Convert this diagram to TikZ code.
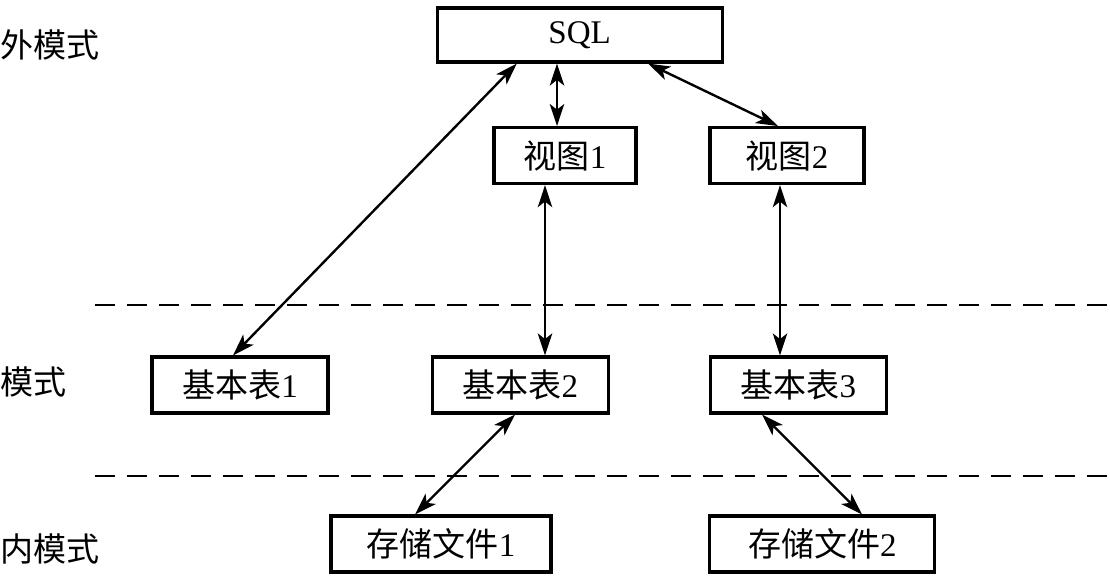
\documentclass[tikz,border=0pt]{standalone}
\usepackage{fontspec}
\setmainfont{Liberation Serif}
\newfontfamily\cjk{Noto Sans CJK SC}
\usepackage{tikz}
\usetikzlibrary{arrows.meta}

\begin{document}
\begin{tikzpicture}[
    font=\fontsize{23.5}{27}\selectfont,
    box/.style={draw, line width=2.2pt, rectangle, align=center, inner sep=0pt,
                minimum height=1.4cm},
    link/.style={{Stealth[length=0.55cm, width=0.36cm, inset=0.14cm]}-{Stealth[length=0.55cm, width=0.36cm, inset=0.14cm]},
                 line width=1.7pt},
    level/.style={line width=1.7pt, dash pattern=on 0.5cm off 0.3cm},
    tag/.style={anchor=west, inner sep=0pt},
  ]
    \useasboundingbox (0,0) rectangle (27.75,-14.375);

    % levels
    \node[tag] (ext) at (0,-1.125) {\cjk 外模式};
    \node[tag] (con) at (0,-9.55) {\cjk 模式};
    \node[tag] (int) at (0,-13.725) {\cjk 内模式};

    \coordinate (upA) at (2.375,-7.625);
    \coordinate (upB) at (27.75,-7.625);
    \coordinate (loA) at (2.375,-11.9);
    \coordinate (loB) at (27.75,-11.9);
    \draw[level] (upA) -- (upB);
    \draw[level] (loA) -- (loB);

    % boxes
    \node[box, minimum width=7.125cm, minimum height=1.35cm] (sql) at (14.49,-0.875) {SQL};

    \node[box, minimum width=3.55cm] (view1) at (14.125,-3.89) {{\cjk 视图}1};
    \node[box, minimum width=3.85cm] (view2) at (19.675,-3.89) {{\cjk 视图}2};

    \node[box, minimum width=4.4cm] (table1) at (6.0,-9.625) {{\cjk 基本表}1};
    \node[box, minimum width=4.4cm] (table2) at (13.01,-9.625) {{\cjk 基本表}2};
    \node[box, minimum width=4.4cm] (table3) at (19.96,-9.625) {{\cjk 基本表}3};

    \node[box, minimum width=5.5cm] (file1) at (11.025,-13.6) {{\cjk 存储文件}1};
    \node[box, minimum width=5.625cm] (file2) at (20.56,-13.6) {{\cjk 存储文件}2};

    % links
    \draw[link] ([xshift=-1.57cm]sql.south) -- ([xshift=-0.175cm]table1.north);
    \draw[link] ([xshift=-0.565cm]sql.south) -- ([xshift=-0.2cm]view1.north);
    \draw[link] ([xshift=1.71cm]sql.south) -- ([xshift=-0.225cm]view2.north);

    \draw[link] ([xshift=-0.5cm]view1.south) -- ([xshift=-0.5cm]view1.south |- table2.north);
    \draw[link] ([xshift=-0.175cm]view2.south) -- ([xshift=-0.175cm]view2.south |- table3.north);

    \draw[link] ([xshift=-0.135cm]table2.south) -- ([xshift=-0.65cm]file1.north);
    \draw[link] ([xshift=-0.91cm]table3.south) -- ([xshift=0.99cm]file2.north);
  \end{tikzpicture}
\end{document}
